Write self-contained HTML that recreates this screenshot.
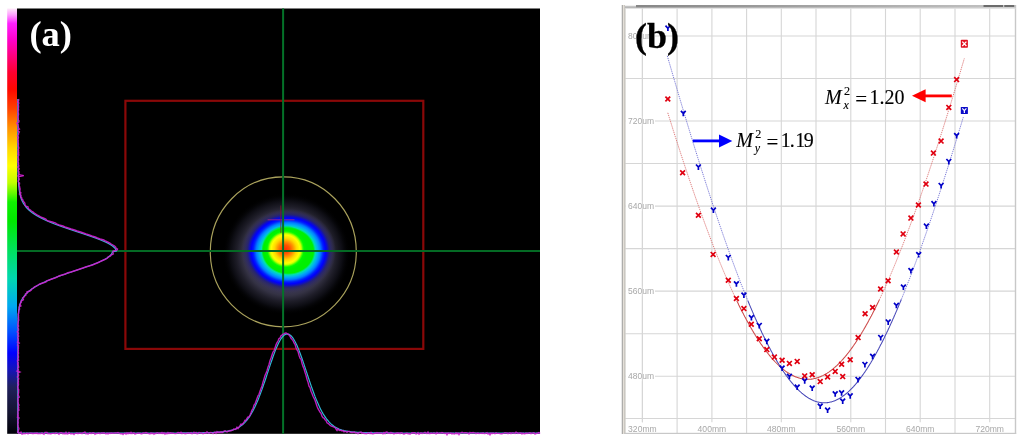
<!DOCTYPE html>
<html><head><meta charset="utf-8"><style>
html,body{margin:0;padding:0;background:#fff;width:1024px;height:439px;overflow:hidden}
svg{position:absolute;left:0;top:0;display:block;will-change:transform}
</style></head><body>
<svg width="1024" height="439" viewBox="0 0 1024 439">
<defs>
<linearGradient id="cbar" x1="0" y1="0" x2="0" y2="1">
<stop offset="0" stop-color="#ffe8fa"/>
<stop offset="0.015" stop-color="#ffa0ff"/>
<stop offset="0.035" stop-color="#ff20ff"/>
<stop offset="0.075" stop-color="#ff00c8"/>
<stop offset="0.11" stop-color="#ff0080"/>
<stop offset="0.15" stop-color="#ff0030"/>
<stop offset="0.19" stop-color="#ff0800"/>
<stop offset="0.235" stop-color="#ff4000"/>
<stop offset="0.28" stop-color="#ff9000"/>
<stop offset="0.33" stop-color="#ffd800"/>
<stop offset="0.37" stop-color="#ffff00"/>
<stop offset="0.41" stop-color="#c0ff00"/>
<stop offset="0.435" stop-color="#60f800"/>
<stop offset="0.455" stop-color="#10f000"/>
<stop offset="0.5" stop-color="#00e800"/>
<stop offset="0.57" stop-color="#00e060"/>
<stop offset="0.635" stop-color="#00d8b0"/>
<stop offset="0.70" stop-color="#00a8f0"/>
<stop offset="0.76" stop-color="#0050ff"/>
<stop offset="0.81" stop-color="#0000ff"/>
<stop offset="0.85" stop-color="#1414b8"/>
<stop offset="0.89" stop-color="#20205c"/>
<stop offset="0.95" stop-color="#141430"/>
<stop offset="1" stop-color="#000008"/>
</linearGradient>
<radialGradient id="beamo" cx="0.5" cy="0.5" r="0.5">
<stop offset="0" stop-color="#00f000"/>
<stop offset="0.379" stop-color="#00f000"/>
<stop offset="0.409" stop-color="#00e0b0"/>
<stop offset="0.447" stop-color="#00b0f0"/>
<stop offset="0.485" stop-color="#0080ff"/>
<stop offset="0.53" stop-color="#0020ff"/>
<stop offset="0.561" stop-color="#0000ff"/>
<stop offset="0.591" stop-color="#1010c0"/>
<stop offset="0.621" stop-color="#262474"/>
<stop offset="0.667" stop-color="#302c60" stop-opacity="0.6"/>
<stop offset="0.72" stop-color="#363250" stop-opacity="0"/>
<stop offset="1" stop-color="#000" stop-opacity="0"/>
</radialGradient>
<radialGradient id="halo" cx="0.5" cy="0.5" r="0.5">
<stop offset="0" stop-color="#3c3858"/>
<stop offset="0.58" stop-color="#3c3858"/>
<stop offset="0.68" stop-color="#343244"/>
<stop offset="0.78" stop-color="#1e1d28"/>
<stop offset="0.88" stop-color="#0c0c12"/>
<stop offset="1" stop-color="#000" stop-opacity="0"/>
</radialGradient>
<radialGradient id="beami" cx="0.5" cy="0.5" r="0.5">
<stop offset="0" stop-color="#ff3000"/>
<stop offset="0.167" stop-color="#ff5000"/>
<stop offset="0.317" stop-color="#ff9000"/>
<stop offset="0.458" stop-color="#ffd800"/>
<stop offset="0.594" stop-color="#ffff00"/>
<stop offset="0.658" stop-color="#c8ff00"/>
<stop offset="0.72" stop-color="#40ff00"/>
<stop offset="0.77" stop-color="#00f800"/>
<stop offset="0.88" stop-color="#00f000"/>
<stop offset="1" stop-color="#00f000" stop-opacity="0"/>
</radialGradient>
<linearGradient id="tbar" x1="0" y1="0" x2="1" y2="0">
<stop offset="0" stop-color="#858585"/>
<stop offset="1" stop-color="#c4c4c4"/>
</linearGradient>
</defs>
<rect x="7.2" y="8.5" width="9.8" height="425.3" fill="url(#cbar)"/>
<rect x="17" y="8.5" width="523" height="425.3" fill="#000"/>
<ellipse cx="286.5" cy="254" rx="64" ry="61" fill="url(#halo)"/>
<ellipse cx="288.4" cy="251" rx="66" ry="58.5" fill="url(#beamo)"/>
<ellipse cx="285.5" cy="249.2" rx="24" ry="23.6" fill="url(#beami)"/>
<ellipse cx="283.3" cy="251.8" rx="73" ry="75" fill="none" stroke="#aaa25c" stroke-width="1.15"/>
<rect x="125.4" y="100.8" width="297.9" height="248.1" fill="none" stroke="#8a0808" stroke-width="2.2"/>
<path d="M267.6,219.8 H294.5" stroke="#c03070" stroke-width="0.9" fill="none" opacity="0.8"/><path d="M280.8,205.5 V233" stroke="#901830" stroke-width="0.9" fill="none" opacity="0.8"/>
<rect x="282.1" y="8.5" width="2" height="425.3" fill="#047228"/>
<rect x="17" y="250" width="523" height="2" fill="#046a24"/>
<path d="M17.8,99.0 L17.8,100.0 L17.8,101.0 L17.8,102.0 L17.8,103.0 L17.8,104.0 L17.8,105.0 L17.8,106.0 L17.8,107.0 L17.8,108.0 L17.8,109.0 L17.8,110.0 L17.8,111.0 L17.8,112.0 L17.8,113.0 L17.8,114.0 L17.8,115.0 L17.8,116.0 L17.8,117.0 L17.8,118.0 L17.8,119.0 L17.8,120.0 L17.8,121.0 L17.8,122.0 L17.8,123.0 L17.8,124.0 L17.8,125.0 L17.8,126.0 L17.8,127.0 L17.8,128.0 L17.8,129.0 L17.8,130.0 L17.8,131.0 L17.8,132.0 L17.8,133.0 L17.8,134.0 L17.8,135.0 L17.8,136.0 L17.8,137.0 L17.8,138.0 L17.8,139.0 L17.8,140.0 L17.8,141.0 L17.8,142.0 L17.8,143.0 L17.8,144.0 L17.8,145.0 L17.8,146.0 L17.8,147.0 L17.9,148.0 L17.9,149.0 L17.9,150.0 L17.9,151.0 L17.9,152.0 L17.9,153.0 L17.9,154.0 L17.9,155.0 L17.9,156.0 L17.9,157.0 L17.9,158.0 L17.9,159.0 L17.9,160.0 L17.9,161.0 L18.0,162.0 L18.0,163.0 L18.0,164.0 L18.0,165.0 L18.0,166.0 L18.0,167.0 L18.0,168.0 L18.1,169.0 L18.1,170.0 L18.1,171.0 L18.1,172.0 L18.1,173.0 L18.2,174.0 L18.2,175.0 L18.2,176.0 L18.3,177.0 L18.3,178.0 L18.3,179.0 L18.4,180.0 L18.4,181.0 L18.5,182.0 L18.6,183.0 L18.6,184.0 L18.7,185.0 L18.8,186.0 L18.9,187.0 L19.0,188.0 L19.1,189.0 L19.2,190.0 L19.4,191.0 L19.5,192.0 L19.7,193.0 L19.9,194.0 L20.1,195.0 L20.4,196.0 L20.7,197.0 L21.0,198.0 L21.3,199.0 L21.7,200.0 L22.2,201.0 L22.7,202.0 L23.2,203.0 L23.8,204.0 L24.5,205.0 L25.2,206.0 L26.0,207.0 L26.9,208.0 L27.9,209.0 L28.9,210.0 L30.1,211.0 L31.3,212.0 L32.6,213.0 L34.1,214.0 L35.6,215.0 L37.3,216.0 L39.1,217.0 L41.0,218.0 L43.0,219.0 L45.1,220.0 L47.3,221.0 L49.6,222.0 L52.1,223.0 L54.6,224.0 L57.3,225.0 L60.0,226.0 L62.8,227.0 L65.7,228.0 L68.6,229.0 L71.6,230.0 L74.6,231.0 L77.6,232.0 L80.7,233.0 L83.7,234.0 L86.7,235.0 L89.6,236.0 L92.5,237.0 L95.3,238.0 L98.0,239.0 L100.6,240.0 L103.0,241.0 L105.3,242.0 L107.4,243.0 L109.3,244.0 L111.0,245.0 L112.5,246.0 L113.7,247.0 L114.7,248.0 L115.5,249.0 L116.0,250.0 L116.3,251.0 L112.3,252.0 L112.0,253.0 L111.5,254.0 L110.7,255.0 L109.7,256.0 L108.5,257.0 L107.0,258.0 L105.4,259.0 L103.5,260.0 L101.4,261.0 L99.2,262.0 L96.8,263.0 L94.3,264.0 L91.6,265.0 L88.9,266.0 L86.0,267.0 L83.1,268.0 L80.2,269.0 L77.2,270.0 L74.2,271.0 L71.2,272.0 L68.3,273.0 L65.4,274.0 L62.5,275.0 L59.7,276.0 L56.9,277.0 L54.3,278.0 L51.7,279.0 L49.2,280.0 L46.8,281.0 L44.6,282.0 L42.4,283.0 L40.4,284.0 L38.4,285.0 L36.6,286.0 L34.9,287.0 L33.3,288.0 L31.8,289.0 L30.5,290.0 L29.2,291.0 L28.0,292.0 L26.9,293.0 L26.0,294.0 L25.1,295.0 L24.2,296.0 L23.5,297.0 L22.8,298.0 L22.2,299.0 L21.7,300.0 L21.2,301.0 L20.8,302.0 L20.4,303.0 L20.0,304.0 L19.7,305.0 L19.5,306.0 L19.2,307.0 L19.0,308.0 L18.9,309.0 L18.7,310.0 L18.6,311.0 L18.5,312.0 L18.4,313.0 L18.3,314.0 L18.2,315.0 L18.1,316.0 L18.1,317.0 L18.0,318.0 L18.0,319.0 L18.0,320.0 L17.9,321.0 L17.9,322.0 L17.9,323.0 L17.9,324.0 L17.9,325.0 L17.9,326.0 L17.8,327.0 L17.8,328.0 L17.8,329.0 L17.8,330.0 L17.8,331.0 L17.8,332.0 L17.8,333.0 L17.8,334.0 L17.8,335.0 L17.8,336.0 L17.8,337.0 L17.8,338.0 L17.8,339.0 L17.8,340.0 L17.8,341.0 L17.8,342.0 L17.8,343.0 L17.8,344.0 L17.8,345.0 L17.8,346.0 L17.8,347.0 L17.8,348.0 L17.8,349.0 L17.8,350.0 L17.8,351.0 L17.8,352.0 L17.8,353.0 L17.8,354.0 L17.8,355.0 L17.8,356.0 L17.8,357.0 L17.8,358.0 L17.8,359.0 L17.8,360.0 L17.8,361.0 L17.8,362.0 L17.8,363.0 L17.8,364.0 L17.8,365.0 L17.8,366.0 L17.8,367.0 L17.8,368.0 L17.8,369.0 L17.8,370.0 L17.8,371.0 L17.8,372.0 L17.8,373.0 L17.8,374.0 L17.8,375.0 L17.8,376.0 L17.8,377.0 L17.8,378.0 L17.8,379.0 L17.8,380.0 L17.8,381.0 L17.8,382.0 L17.8,383.0 L17.8,384.0 L17.8,385.0 L17.8,386.0 L17.8,387.0 L17.8,388.0 L17.8,389.0 L17.8,390.0 L17.8,391.0 L17.8,392.0 L17.8,393.0 L17.8,394.0 L17.8,395.0 L17.8,396.0 L17.8,397.0 L17.8,398.0 L17.8,399.0 L17.8,400.0 L17.8,401.0 L17.8,402.0 L17.8,403.0 L17.8,404.0 L17.8,405.0 L17.8,406.0 L17.8,407.0 L17.8,408.0 L17.8,409.0 L17.8,410.0 L17.8,411.0 L17.8,412.0 L17.8,413.0 L17.8,414.0 L17.8,415.0 L17.8,416.0 L17.8,417.0 L17.8,418.0 L17.8,419.0 L17.8,420.0 L17.8,421.0 L17.8,422.0 L17.8,423.0 L17.8,424.0 L17.8,425.0 L17.8,426.0 L17.8,427.0 L17.8,428.0 L17.8,429.0 L17.8,430.0 L17.8,431.0 L17.8,432.0 L17.8,433.0" stroke="#40b0e0" stroke-width="1.2" fill="none"/>
<path d="M18.5,99.0 L18.7,100.0 L18.5,101.0 L17.6,102.0 L18.8,103.0 L18.5,104.0 L18.0,105.0 L18.6,106.0 L18.5,107.0 L18.4,108.0 L18.3,109.0 L18.6,110.0 L17.9,111.0 L18.2,112.0 L18.1,113.0 L18.6,114.0 L18.3,115.0 L18.2,116.0 L17.9,117.0 L18.2,118.0 L18.3,119.0 L18.2,120.0 L19.0,121.0 L18.8,122.0 L16.9,123.0 L17.4,124.0 L18.2,125.0 L18.1,126.0 L18.4,127.0 L18.4,128.0 L19.4,129.0 L17.8,130.0 L18.1,131.0 L19.3,132.0 L18.6,133.0 L18.6,134.0 L18.1,135.0 L17.5,136.0 L18.4,137.0 L18.4,138.0 L17.7,139.0 L18.0,140.0 L18.3,141.0 L17.9,142.0 L18.3,143.0 L18.4,144.0 L18.4,145.0 L18.1,146.0 L18.6,147.0 L18.8,148.0 L18.5,149.0 L18.0,150.0 L18.7,151.0 L18.1,152.0 L18.8,153.0 L17.9,154.0 L18.9,155.0 L18.4,156.0 L17.8,157.0 L18.3,158.0 L18.5,159.0 L18.6,160.0 L18.0,161.0 L17.9,162.0 L18.6,163.0 L18.3,164.0 L18.6,165.0 L18.9,166.0 L17.7,167.0 L18.7,168.0 L19.2,169.0 L18.4,170.0 L18.2,171.0 L19.0,172.0 L18.8,173.0 L19.1,174.0 L18.5,175.0 L18.0,176.0 L18.7,177.0 L18.6,178.0 L19.3,179.0 L19.0,180.0 L18.2,181.0 L18.4,182.0 L19.5,183.0 L19.5,184.0 L18.9,185.0 L19.3,186.0 L19.7,187.0 L19.8,188.0 L20.1,189.0 L19.9,190.0 L19.9,191.0 L20.0,192.0 L20.9,193.0 L19.5,194.0 L20.8,195.0 L21.1,196.0 L20.7,197.0 L21.9,198.0 L21.8,199.0 L23.0,200.0 L23.0,201.0 L23.9,202.0 L24.8,203.0 L25.0,204.0 L25.1,205.0 L25.6,206.0 L28.1,207.0 L28.1,208.0 L28.8,209.0 L30.4,210.0 L31.4,211.0 L33.2,212.0 L34.3,213.0 L35.8,214.0 L37.0,215.0 L39.4,216.0 L40.5,217.0 L43.3,218.0 L45.8,219.0 L46.5,220.0 L48.3,221.0 L52.3,222.0 L55.7,223.0 L56.6,224.0 L59.2,225.0 L62.9,226.0 L65.0,227.0 L68.1,228.0 L71.2,229.0 L74.6,230.0 L77.2,231.0 L80.6,232.0 L83.4,233.0 L86.1,234.0 L89.3,235.0 L91.9,236.0 L95.2,237.0 L97.4,238.0 L100.1,239.0 L103.8,240.0 L105.4,241.0 L107.6,242.0 L109.9,243.0 L111.2,244.0 L112.9,245.0 L114.6,246.0 L115.7,247.0 L115.9,248.0 L117.5,249.0 L117.2,250.0 L113.1,251.0 L113.0,252.0 L112.9,253.0 L113.3,254.0 L111.0,255.0 L110.5,256.0 L108.0,257.0 L107.5,258.0 L106.2,259.0 L103.7,260.0 L101.3,261.0 L99.4,262.0 L97.2,263.0 L94.6,264.0 L92.5,265.0 L88.9,266.0 L85.6,267.0 L82.9,268.0 L80.0,269.0 L77.1,270.0 L74.0,271.0 L71.1,272.0 L67.2,273.0 L65.6,274.0 L62.0,275.0 L58.9,276.0 L57.1,277.0 L54.8,278.0 L51.8,279.0 L49.2,280.0 L46.3,281.0 L46.0,282.0 L42.8,283.0 L39.8,284.0 L38.1,285.0 L36.7,286.0 L34.3,287.0 L33.6,288.0 L31.8,289.0 L31.3,290.0 L29.9,291.0 L26.9,292.0 L27.2,293.0 L25.5,294.0 L25.9,295.0 L24.7,296.0 L24.1,297.0 L22.7,298.0 L23.5,299.0 L23.1,300.0 L21.1,301.0 L21.4,302.0 L20.5,303.0 L20.5,304.0 L19.6,305.0 L20.9,306.0 L19.2,307.0 L19.4,308.0 L19.6,309.0 L18.9,310.0 L18.9,311.0 L18.7,312.0 L18.8,313.0 L18.2,314.0 L18.5,315.0 L18.5,316.0 L18.4,317.0 L18.6,318.0 L18.3,319.0 L18.8,320.0 L18.3,321.0 L18.3,322.0 L18.1,323.0 L18.1,324.0 L17.7,325.0 L18.6,326.0 L17.8,327.0 L18.0,328.0 L18.5,329.0 L18.5,330.0 L18.1,331.0 L17.3,332.0 L18.5,333.0 L18.4,334.0 L17.6,335.0 L18.7,336.0 L18.0,337.0 L17.7,338.0 L18.4,339.0 L18.2,340.0 L18.4,341.0 L17.5,342.0 L19.2,343.0 L18.0,344.0 L17.5,345.0 L18.6,346.0 L18.1,347.0 L18.5,348.0 L18.1,349.0 L18.3,350.0 L18.4,351.0 L17.9,352.0 L18.6,353.0 L18.1,354.0 L17.9,355.0 L18.3,356.0 L18.5,357.0 L18.2,358.0 L17.9,359.0 L18.6,360.0 L17.4,361.0 L17.8,362.0 L18.3,363.0 L17.6,364.0 L18.3,365.0 L18.3,366.0 L18.7,367.0 L17.8,368.0 L18.0,369.0 L18.5,370.0 L17.1,371.0 L19.9,372.0 L18.0,373.0 L17.9,374.0 L18.7,375.0 L18.3,376.0 L17.4,377.0 L18.6,378.0 L18.7,379.0 L18.1,380.0 L18.2,381.0 L18.5,382.0 L17.8,383.0 L18.5,384.0 L18.4,385.0 L18.0,386.0 L17.6,387.0 L18.2,388.0 L17.9,389.0 L18.8,390.0 L18.4,391.0 L18.7,392.0 L18.4,393.0 L18.4,394.0 L17.9,395.0 L18.6,396.0 L19.2,397.0 L18.1,398.0 L18.0,399.0 L18.2,400.0 L18.1,401.0 L17.9,402.0 L18.4,403.0 L18.2,404.0 L19.0,405.0 L18.3,406.0 L18.5,407.0 L18.8,408.0 L18.1,409.0 L19.0,410.0 L18.0,411.0 L17.9,412.0 L18.1,413.0 L18.2,414.0 L17.6,415.0 L18.3,416.0 L17.5,417.0 L19.0,418.0 L18.3,419.0 L18.0,420.0 L17.8,421.0 L18.1,422.0 L18.2,423.0 L17.8,424.0 L17.8,425.0 L18.2,426.0 L18.0,427.0 L18.8,428.0 L18.9,429.0 L18.3,430.0 L18.5,431.0 L17.6,432.0 L18.6,433.0" stroke="#d020d0" stroke-width="1.4" fill="none" stroke-opacity="0.9"/>
<path d="M18.0,433.0 L19.0,433.0 L20.0,433.0 L21.0,433.0 L22.0,433.0 L23.0,433.0 L24.0,433.0 L25.0,433.0 L26.0,433.0 L27.0,433.0 L28.0,433.0 L29.0,433.0 L30.0,433.0 L31.0,433.0 L32.0,433.0 L33.0,433.0 L34.0,433.0 L35.0,433.0 L36.0,433.0 L37.0,433.0 L38.0,433.0 L39.0,433.0 L40.0,433.0 L41.0,433.0 L42.0,433.0 L43.0,433.0 L44.0,433.0 L45.0,433.0 L46.0,433.0 L47.0,433.0 L48.0,433.0 L49.0,433.0 L50.0,433.0 L51.0,433.0 L52.0,433.0 L53.0,433.0 L54.0,433.0 L55.0,433.0 L56.0,433.0 L57.0,433.0 L58.0,433.0 L59.0,433.0 L60.0,433.0 L61.0,433.0 L62.0,433.0 L63.0,433.0 L64.0,433.0 L65.0,433.0 L66.0,433.0 L67.0,433.0 L68.0,433.0 L69.0,433.0 L70.0,433.0 L71.0,433.0 L72.0,433.0 L73.0,433.0 L74.0,433.0 L75.0,433.0 L76.0,433.0 L77.0,433.0 L78.0,433.0 L79.0,433.0 L80.0,433.0 L81.0,433.0 L82.0,433.0 L83.0,433.0 L84.0,433.0 L85.0,433.0 L86.0,433.0 L87.0,433.0 L88.0,433.0 L89.0,433.0 L90.0,433.0 L91.0,433.0 L92.0,433.0 L93.0,433.0 L94.0,433.0 L95.0,433.0 L96.0,433.0 L97.0,433.0 L98.0,433.0 L99.0,433.0 L100.0,433.0 L101.0,433.0 L102.0,433.0 L103.0,433.0 L104.0,433.0 L105.0,433.0 L106.0,433.0 L107.0,433.0 L108.0,433.0 L109.0,433.0 L110.0,433.0 L111.0,433.0 L112.0,433.0 L113.0,433.0 L114.0,433.0 L115.0,433.0 L116.0,433.0 L117.0,433.0 L118.0,433.0 L119.0,433.0 L120.0,433.0 L121.0,433.0 L122.0,433.0 L123.0,433.0 L124.0,433.0 L125.0,433.0 L126.0,433.0 L127.0,433.0 L128.0,433.0 L129.0,433.0 L130.0,433.0 L131.0,433.0 L132.0,433.0 L133.0,433.0 L134.0,433.0 L135.0,433.0 L136.0,433.0 L137.0,433.0 L138.0,433.0 L139.0,433.0 L140.0,433.0 L141.0,433.0 L142.0,433.0 L143.0,433.0 L144.0,433.0 L145.0,433.0 L146.0,433.0 L147.0,433.0 L148.0,433.0 L149.0,433.0 L150.0,433.0 L151.0,433.0 L152.0,433.0 L153.0,433.0 L154.0,433.0 L155.0,433.0 L156.0,433.0 L157.0,433.0 L158.0,433.0 L159.0,433.0 L160.0,433.0 L161.0,433.0 L162.0,433.0 L163.0,433.0 L164.0,433.0 L165.0,433.0 L166.0,433.0 L167.0,433.0 L168.0,433.0 L169.0,433.0 L170.0,433.0 L171.0,433.0 L172.0,433.0 L173.0,433.0 L174.0,433.0 L175.0,433.0 L176.0,433.0 L177.0,433.0 L178.0,433.0 L179.0,433.0 L180.0,433.0 L181.0,432.9 L182.0,432.9 L183.0,432.9 L184.0,432.9 L185.0,432.9 L186.0,432.9 L187.0,432.9 L188.0,432.9 L189.0,432.9 L190.0,432.9 L191.0,432.9 L192.0,432.9 L193.0,432.9 L194.0,432.9 L195.0,432.8 L196.0,432.8 L197.0,432.8 L198.0,432.8 L199.0,432.8 L200.0,432.8 L201.0,432.8 L202.0,432.8 L203.0,432.7 L204.0,432.7 L205.0,432.7 L206.0,432.7 L207.0,432.6 L208.0,432.6 L209.0,432.6 L210.0,432.6 L211.0,432.5 L212.0,432.5 L213.0,432.5 L214.0,432.4 L215.0,432.4 L216.0,432.3 L217.0,432.3 L218.0,432.2 L219.0,432.2 L220.0,432.1 L221.0,432.0 L222.0,431.9 L223.0,431.8 L224.0,431.7 L225.0,431.6 L226.0,431.4 L227.0,431.3 L228.0,431.1 L229.0,430.9 L230.0,430.7 L231.0,430.4 L232.0,430.2 L233.0,429.9 L234.0,429.5 L235.0,429.2 L236.0,428.7 L237.0,428.3 L238.0,427.7 L239.0,427.2 L240.0,426.5 L241.0,425.8 L242.0,425.1 L243.0,424.2 L244.0,423.3 L245.0,422.3 L246.0,421.2 L247.0,420.0 L248.0,418.7 L249.0,417.3 L250.0,415.8 L251.0,414.2 L252.0,412.5 L253.0,410.7 L254.0,408.8 L255.0,406.7 L256.0,404.5 L257.0,402.3 L258.0,399.9 L259.0,397.4 L260.0,394.8 L261.0,392.1 L262.0,389.4 L263.0,386.5 L264.0,383.6 L265.0,380.7 L266.0,377.7 L267.0,374.6 L268.0,371.6 L269.0,368.6 L270.0,365.6 L271.0,362.6 L272.0,359.7 L273.0,356.8 L274.0,354.1 L275.0,351.4 L276.0,348.9 L277.0,346.5 L278.0,344.3 L279.0,342.3 L280.0,340.5 L281.0,338.8 L282.0,337.4 L283.0,336.3 L284.0,335.3 L285.0,334.6 L286.0,334.2 L287.0,334.0 L288.0,334.1 L289.0,334.4 L290.0,335.0 L291.0,335.8 L292.0,336.9 L293.0,338.2 L294.0,339.8 L295.0,341.5 L296.0,343.5 L297.0,345.6 L298.0,347.9 L299.0,350.4 L300.0,353.0 L301.0,355.7 L302.0,358.5 L303.0,361.4 L304.0,364.4 L305.0,367.4 L306.0,370.4 L307.0,373.4 L308.0,376.5 L309.0,379.5 L310.0,382.4 L311.0,385.4 L312.0,388.2 L313.0,391.0 L314.0,393.7 L315.0,396.4 L316.0,398.9 L317.0,401.3 L318.0,403.6 L319.0,405.8 L320.0,407.9 L321.0,409.9 L322.0,411.8 L323.0,413.6 L324.0,415.2 L325.0,416.7 L326.0,418.2 L327.0,419.5 L328.0,420.7 L329.0,421.9 L330.0,422.9 L331.0,423.9 L332.0,424.7 L333.0,425.5 L334.0,426.3 L335.0,426.9 L336.0,427.5 L337.0,428.1 L338.0,428.5 L339.0,429.0 L340.0,429.4 L341.0,429.7 L342.0,430.1 L343.0,430.3 L344.0,430.6 L345.0,430.8 L346.0,431.0 L347.0,431.2 L348.0,431.4 L349.0,431.5 L350.0,431.6 L351.0,431.8 L352.0,431.9 L353.0,432.0 L354.0,432.0 L355.0,432.1 L356.0,432.2 L357.0,432.3 L358.0,432.3 L359.0,432.4 L360.0,432.4 L361.0,432.4 L362.0,432.5 L363.0,432.5 L364.0,432.6 L365.0,432.6 L366.0,432.6 L367.0,432.6 L368.0,432.7 L369.0,432.7 L370.0,432.7 L371.0,432.7 L372.0,432.7 L373.0,432.8 L374.0,432.8 L375.0,432.8 L376.0,432.8 L377.0,432.8 L378.0,432.8 L379.0,432.8 L380.0,432.9 L381.0,432.9 L382.0,432.9 L383.0,432.9 L384.0,432.9 L385.0,432.9 L386.0,432.9 L387.0,432.9 L388.0,432.9 L389.0,432.9 L390.0,432.9 L391.0,432.9 L392.0,432.9 L393.0,432.9 L394.0,433.0 L395.0,433.0 L396.0,433.0 L397.0,433.0 L398.0,433.0 L399.0,433.0 L400.0,433.0 L401.0,433.0 L402.0,433.0 L403.0,433.0 L404.0,433.0 L405.0,433.0 L406.0,433.0 L407.0,433.0 L408.0,433.0 L409.0,433.0 L410.0,433.0 L411.0,433.0 L412.0,433.0 L413.0,433.0 L414.0,433.0 L415.0,433.0 L416.0,433.0 L417.0,433.0 L418.0,433.0 L419.0,433.0 L420.0,433.0 L421.0,433.0 L422.0,433.0 L423.0,433.0 L424.0,433.0 L425.0,433.0 L426.0,433.0 L427.0,433.0 L428.0,433.0 L429.0,433.0 L430.0,433.0 L431.0,433.0 L432.0,433.0 L433.0,433.0 L434.0,433.0 L435.0,433.0 L436.0,433.0 L437.0,433.0 L438.0,433.0 L439.0,433.0 L440.0,433.0 L441.0,433.0 L442.0,433.0 L443.0,433.0 L444.0,433.0 L445.0,433.0 L446.0,433.0 L447.0,433.0 L448.0,433.0 L449.0,433.0 L450.0,433.0 L451.0,433.0 L452.0,433.0 L453.0,433.0 L454.0,433.0 L455.0,433.0 L456.0,433.0 L457.0,433.0 L458.0,433.0 L459.0,433.0 L460.0,433.0 L461.0,433.0 L462.0,433.0 L463.0,433.0 L464.0,433.0 L465.0,433.0 L466.0,433.0 L467.0,433.0 L468.0,433.0 L469.0,433.0 L470.0,433.0 L471.0,433.0 L472.0,433.0 L473.0,433.0 L474.0,433.0 L475.0,433.0 L476.0,433.0 L477.0,433.0 L478.0,433.0 L479.0,433.0 L480.0,433.0 L481.0,433.0 L482.0,433.0 L483.0,433.0 L484.0,433.0 L485.0,433.0 L486.0,433.0 L487.0,433.0 L488.0,433.0 L489.0,433.0 L490.0,433.0 L491.0,433.0 L492.0,433.0 L493.0,433.0 L494.0,433.0 L495.0,433.0 L496.0,433.0 L497.0,433.0 L498.0,433.0 L499.0,433.0 L500.0,433.0 L501.0,433.0 L502.0,433.0 L503.0,433.0 L504.0,433.0 L505.0,433.0 L506.0,433.0 L507.0,433.0 L508.0,433.0 L509.0,433.0 L510.0,433.0 L511.0,433.0 L512.0,433.0 L513.0,433.0 L514.0,433.0 L515.0,433.0 L516.0,433.0 L517.0,433.0 L518.0,433.0 L519.0,433.0 L520.0,433.0 L521.0,433.0 L522.0,433.0 L523.0,433.0 L524.0,433.0 L525.0,433.0 L526.0,433.0 L527.0,433.0 L528.0,433.0 L529.0,433.0 L530.0,433.0 L531.0,433.0 L532.0,433.0 L533.0,433.0 L534.0,433.0 L535.0,433.0 L536.0,433.0 L537.0,433.0 L538.0,433.0 L539.0,433.0 L540.0,433.0" stroke="#30b8d8" stroke-width="1.2" fill="none"/>
<path d="M18.0,433.4 L19.0,433.0 L20.0,433.1 L21.0,432.1 L22.0,434.2 L23.0,433.9 L24.0,433.1 L25.0,433.7 L26.0,433.4 L27.0,433.0 L28.0,433.8 L29.0,433.1 L30.0,433.1 L31.0,432.9 L32.0,433.5 L33.0,433.3 L34.0,433.6 L35.0,433.0 L36.0,433.4 L37.0,432.9 L38.0,433.7 L39.0,433.4 L40.0,433.5 L41.0,433.5 L42.0,432.8 L43.0,433.7 L44.0,434.3 L45.0,432.5 L46.0,432.4 L47.0,432.5 L48.0,433.7 L49.0,433.4 L50.0,433.8 L51.0,433.7 L52.0,433.4 L53.0,433.4 L54.0,433.2 L55.0,433.7 L56.0,432.7 L57.0,433.1 L58.0,433.4 L59.0,434.2 L60.0,432.9 L61.0,432.8 L62.0,433.0 L63.0,433.8 L64.0,433.2 L65.0,434.0 L66.0,432.4 L67.0,433.9 L68.0,433.8 L69.0,432.6 L70.0,433.4 L71.0,433.9 L72.0,433.3 L73.0,433.8 L74.0,434.5 L75.0,433.4 L76.0,433.2 L77.0,432.9 L78.0,433.6 L79.0,433.2 L80.0,433.2 L81.0,433.2 L82.0,433.6 L83.0,432.8 L84.0,432.5 L85.0,432.1 L86.0,433.9 L87.0,433.3 L88.0,434.1 L89.0,433.3 L90.0,432.9 L91.0,433.5 L92.0,433.3 L93.0,432.7 L94.0,432.9 L95.0,434.2 L96.0,433.5 L97.0,433.5 L98.0,433.2 L99.0,433.0 L100.0,433.7 L101.0,433.2 L102.0,432.9 L103.0,433.2 L104.0,432.8 L105.0,433.4 L106.0,433.9 L107.0,432.9 L108.0,434.0 L109.0,433.0 L110.0,433.4 L111.0,432.9 L112.0,433.2 L113.0,433.3 L114.0,433.1 L115.0,432.9 L116.0,433.0 L117.0,432.9 L118.0,432.5 L119.0,433.2 L120.0,433.5 L121.0,433.8 L122.0,433.6 L123.0,434.5 L124.0,433.5 L125.0,433.1 L126.0,434.2 L127.0,432.8 L128.0,433.8 L129.0,432.8 L130.0,433.5 L131.0,432.3 L132.0,433.7 L133.0,433.2 L134.0,432.8 L135.0,434.1 L136.0,433.7 L137.0,433.3 L138.0,432.9 L139.0,433.3 L140.0,433.2 L141.0,433.7 L142.0,433.7 L143.0,433.0 L144.0,433.0 L145.0,433.0 L146.0,432.6 L147.0,433.0 L148.0,433.3 L149.0,433.6 L150.0,434.0 L151.0,432.9 L152.0,433.6 L153.0,433.1 L154.0,434.3 L155.0,433.3 L156.0,433.5 L157.0,432.8 L158.0,432.9 L159.0,433.4 L160.0,433.1 L161.0,433.5 L162.0,432.5 L163.0,433.6 L164.0,432.8 L165.0,434.1 L166.0,433.1 L167.0,433.8 L168.0,432.6 L169.0,433.5 L170.0,432.8 L171.0,433.0 L172.0,433.3 L173.0,433.1 L174.0,433.4 L175.0,433.6 L176.0,433.6 L177.0,433.2 L178.0,432.6 L179.0,432.8 L180.0,433.1 L181.0,432.2 L182.0,433.6 L183.0,433.1 L184.0,433.1 L185.0,433.7 L186.0,433.5 L187.0,433.3 L188.0,432.7 L189.0,433.3 L190.0,433.4 L191.0,432.7 L192.0,433.7 L193.0,433.4 L194.0,432.2 L195.0,433.2 L196.0,432.5 L197.0,433.7 L198.0,433.5 L199.0,432.5 L200.0,432.6 L201.0,433.1 L202.0,432.9 L203.0,433.8 L204.0,433.4 L205.0,432.8 L206.0,433.2 L207.0,431.9 L208.0,433.0 L209.0,433.3 L210.0,432.7 L211.0,432.4 L212.0,433.0 L213.0,433.7 L214.0,432.8 L215.0,432.1 L216.0,433.3 L217.0,431.6 L218.0,432.7 L219.0,432.1 L220.0,432.7 L221.0,431.8 L222.0,432.7 L223.0,432.1 L224.0,431.0 L225.0,430.7 L226.0,431.4 L227.0,432.0 L228.0,431.2 L229.0,431.0 L230.0,430.6 L231.0,430.8 L232.0,430.3 L233.0,429.9 L234.0,428.9 L235.0,429.5 L236.0,429.2 L237.0,427.3 L238.0,428.5 L239.0,427.1 L240.0,425.7 L241.0,424.2 L242.0,424.6 L243.0,423.6 L244.0,422.0 L245.0,420.3 L246.0,420.5 L247.0,418.4 L248.0,417.0 L249.0,417.1 L250.0,415.1 L251.0,412.7 L252.0,410.1 L253.0,408.7 L254.0,405.1 L255.0,404.1 L256.0,401.3 L257.0,398.6 L258.0,395.9 L259.0,394.3 L260.0,391.3 L261.0,388.5 L262.0,385.9 L263.0,382.1 L264.0,378.9 L265.0,375.6 L266.0,373.2 L267.0,370.7 L268.0,367.1 L269.0,364.5 L270.0,360.6 L271.0,358.0 L272.0,355.0 L273.0,352.0 L274.0,350.9 L275.0,347.9 L276.0,344.8 L277.0,342.6 L278.0,341.0 L279.0,338.6 L280.0,338.0 L281.0,335.8 L282.0,335.2 L283.0,334.1 L284.0,333.8 L285.0,333.1 L286.0,332.9 L287.0,333.5 L288.0,334.1 L289.0,335.1 L290.0,336.3 L291.0,338.3 L292.0,339.4 L293.0,340.6 L294.0,343.0 L295.0,344.4 L296.0,347.8 L297.0,349.8 L298.0,351.4 L299.0,355.2 L300.0,358.1 L301.0,359.2 L302.0,363.2 L303.0,366.4 L304.0,368.7 L305.0,372.2 L306.0,375.4 L307.0,379.2 L308.0,382.1 L309.0,386.2 L310.0,387.6 L311.0,391.3 L312.0,393.5 L313.0,396.3 L314.0,398.1 L315.0,400.2 L316.0,403.2 L317.0,406.2 L318.0,408.7 L319.0,410.3 L320.0,412.1 L321.0,413.3 L322.0,416.1 L323.0,417.6 L324.0,418.1 L325.0,419.7 L326.0,420.5 L327.0,422.8 L328.0,423.4 L329.0,424.1 L330.0,425.2 L331.0,426.0 L332.0,426.4 L333.0,426.6 L334.0,427.2 L335.0,427.5 L336.0,429.1 L337.0,430.4 L338.0,428.8 L339.0,430.1 L340.0,430.6 L341.0,430.2 L342.0,431.0 L343.0,430.6 L344.0,431.9 L345.0,431.2 L346.0,431.7 L347.0,432.2 L348.0,431.7 L349.0,431.2 L350.0,431.9 L351.0,432.6 L352.0,432.3 L353.0,432.5 L354.0,431.9 L355.0,432.6 L356.0,433.0 L357.0,432.7 L358.0,433.7 L359.0,432.6 L360.0,432.3 L361.0,432.0 L362.0,433.4 L363.0,432.8 L364.0,433.4 L365.0,433.2 L366.0,433.8 L367.0,433.6 L368.0,432.8 L369.0,433.2 L370.0,433.6 L371.0,432.4 L372.0,433.8 L373.0,433.7 L374.0,433.6 L375.0,433.0 L376.0,433.3 L377.0,432.6 L378.0,433.2 L379.0,432.9 L380.0,433.2 L381.0,432.9 L382.0,433.3 L383.0,433.8 L384.0,432.5 L385.0,433.7 L386.0,432.2 L387.0,432.1 L388.0,433.2 L389.0,433.2 L390.0,433.5 L391.0,432.4 L392.0,433.2 L393.0,433.3 L394.0,433.9 L395.0,433.2 L396.0,433.5 L397.0,432.8 L398.0,433.2 L399.0,433.0 L400.0,433.6 L401.0,432.8 L402.0,432.9 L403.0,433.6 L404.0,434.2 L405.0,433.5 L406.0,433.4 L407.0,433.1 L408.0,433.8 L409.0,433.6 L410.0,434.2 L411.0,433.5 L412.0,432.8 L413.0,433.0 L414.0,432.8 L415.0,432.7 L416.0,433.9 L417.0,433.7 L418.0,432.7 L419.0,434.2 L420.0,433.4 L421.0,432.8 L422.0,433.5 L423.0,433.3 L424.0,432.9 L425.0,432.3 L426.0,433.3 L427.0,433.4 L428.0,432.0 L429.0,433.6 L430.0,433.6 L431.0,433.1 L432.0,433.4 L433.0,433.2 L434.0,432.9 L435.0,433.1 L436.0,434.0 L437.0,432.6 L438.0,433.4 L439.0,433.4 L440.0,432.9 L441.0,433.1 L442.0,432.6 L443.0,432.9 L444.0,433.3 L445.0,433.5 L446.0,432.9 L447.0,434.8 L448.0,433.0 L449.0,433.4 L450.0,433.2 L451.0,433.1 L452.0,434.0 L453.0,433.1 L454.0,434.0 L455.0,433.9 L456.0,432.8 L457.0,433.8 L458.0,433.0 L459.0,434.7 L460.0,433.1 L461.0,432.8 L462.0,432.3 L463.0,432.7 L464.0,433.0 L465.0,432.8 L466.0,432.7 L467.0,433.0 L468.0,433.2 L469.0,434.0 L470.0,432.4 L471.0,433.0 L472.0,432.8 L473.0,432.5 L474.0,432.7 L475.0,432.8 L476.0,433.7 L477.0,433.2 L478.0,433.0 L479.0,433.6 L480.0,433.4 L481.0,433.2 L482.0,433.5 L483.0,432.9 L484.0,433.6 L485.0,433.5 L486.0,433.1 L487.0,432.7 L488.0,434.1 L489.0,433.3 L490.0,434.8 L491.0,433.0 L492.0,433.7 L493.0,433.1 L494.0,433.4 L495.0,433.7 L496.0,432.9 L497.0,433.2 L498.0,433.4 L499.0,433.4 L500.0,433.6 L501.0,433.8 L502.0,433.7 L503.0,433.4 L504.0,433.1 L505.0,432.7 L506.0,432.9 L507.0,433.0 L508.0,433.6 L509.0,433.1 L510.0,432.7 L511.0,433.6 L512.0,432.9 L513.0,432.9 L514.0,433.2 L515.0,433.5 L516.0,432.1 L517.0,432.7 L518.0,433.4 L519.0,433.1 L520.0,432.9 L521.0,433.0 L522.0,434.0 L523.0,433.1 L524.0,433.7 L525.0,433.7 L526.0,433.1 L527.0,433.5 L528.0,433.1 L529.0,433.0 L530.0,432.7 L531.0,433.7 L532.0,433.1 L533.0,433.0 L534.0,432.7 L535.0,434.2 L536.0,433.7 L537.0,433.2 L538.0,433.0 L539.0,432.5 L540.0,433.4" stroke="#d020d0" stroke-width="1.4" fill="none" stroke-opacity="0.9"/>
<path d="M18.6,174.6 L23.8,175.6 L18.8,176.8" stroke="#d020d0" stroke-width="1.1" fill="none"/>
<text x="29.4" y="46.2" font-family="Liberation Serif" font-weight="bold" font-size="36.5" fill="#fff">(a)</text>
<rect x="625.5" y="8" width="390" height="425.5" fill="#fff"/>
<path d="M625.5,36.0 H1015 M625.5,78.5 H1015 M625.5,121.0 H1015 M625.5,163.5 H1015 M625.5,206.1 H1015 M625.5,248.6 H1015 M625.5,291.1 H1015 M625.5,333.7 H1015 M625.5,376.2 H1015 M625.5,418.5 H1015 M642.4,8.5 V422.3 M677.1,8.5 V433 M711.9,8.5 V422.3 M746.6,8.5 V433 M781.3,8.5 V422.3 M816.0,8.5 V433 M850.8,8.5 V422.3 M885.5,8.5 V433 M920.2,8.5 V422.3 M955.0,8.5 V433 M989.7,8.5 V422.3" stroke="#d6d6d6" stroke-width="1.1" fill="none"/>
<rect x="625.6" y="30.7" width="29.4" height="10" fill="#fff"/>
<text x="628" y="38.7" font-family="Liberation Sans" font-size="9.7" fill="#a8a8a8" textLength="26" lengthAdjust="spacingAndGlyphs">800um</text>
<rect x="625.6" y="116.1" width="29.4" height="10" fill="#fff"/>
<text x="628" y="124.1" font-family="Liberation Sans" font-size="9.7" fill="#a8a8a8" textLength="26" lengthAdjust="spacingAndGlyphs">720um</text>
<rect x="625.6" y="201.2" width="29.4" height="10" fill="#fff"/>
<text x="628" y="209.2" font-family="Liberation Sans" font-size="9.7" fill="#a8a8a8" textLength="26" lengthAdjust="spacingAndGlyphs">640um</text>
<rect x="625.6" y="286.3" width="29.4" height="10" fill="#fff"/>
<text x="628" y="294.3" font-family="Liberation Sans" font-size="9.7" fill="#a8a8a8" textLength="26" lengthAdjust="spacingAndGlyphs">560um</text>
<rect x="625.6" y="371.4" width="29.4" height="10" fill="#fff"/>
<text x="628" y="379.4" font-family="Liberation Sans" font-size="9.7" fill="#a8a8a8" textLength="26" lengthAdjust="spacingAndGlyphs">480um</text>
<path d="M642.4,8.5 V422.3" stroke="#d6d6d6" stroke-width="1.1"/>
<text x="628.1" y="431.7" font-family="Liberation Sans" font-size="9.3" fill="#a8a8a8" textLength="28.6" lengthAdjust="spacingAndGlyphs">320mm</text>
<text x="697.6" y="431.7" font-family="Liberation Sans" font-size="9.3" fill="#a8a8a8" textLength="28.6" lengthAdjust="spacingAndGlyphs">400mm</text>
<text x="767.0" y="431.7" font-family="Liberation Sans" font-size="9.3" fill="#a8a8a8" textLength="28.6" lengthAdjust="spacingAndGlyphs">480mm</text>
<text x="836.5" y="431.7" font-family="Liberation Sans" font-size="9.3" fill="#a8a8a8" textLength="28.6" lengthAdjust="spacingAndGlyphs">560mm</text>
<text x="905.9" y="431.7" font-family="Liberation Sans" font-size="9.3" fill="#a8a8a8" textLength="28.6" lengthAdjust="spacingAndGlyphs">640mm</text>
<text x="975.4" y="431.7" font-family="Liberation Sans" font-size="9.3" fill="#a8a8a8" textLength="28.6" lengthAdjust="spacingAndGlyphs">720mm</text>
<rect x="621.8" y="5" width="1" height="429" fill="#8a8a8a"/>
<rect x="622.8" y="5" width="1.6" height="429" fill="#e4e0d8"/>
<rect x="624.4" y="5" width="1" height="429" fill="#b0aca4"/>
<rect x="1014.8" y="5" width="1.4" height="429" fill="#c8c8c8"/>
<rect x="624.4" y="432.8" width="391.8" height="1.2" fill="#c8c8c8"/>
<rect x="625" y="5" width="391" height="2.8" fill="url(#tbar)"/>
<rect x="625" y="5" width="11" height="2.8" fill="#f0f0f0"/>
<rect x="625" y="6.3" width="11" height="1.8" fill="#b0b0b0"/>
<rect x="625" y="7.8" width="391" height="0.9" fill="#d8d8d8"/>
<path d="M983.5,6 H1003 M1004.3,6 H1014.2" stroke="#505050" stroke-width="1.7"/>
<path d="M667.8,112.8 L668.3,114.4 L668.8,116.0 L669.3,117.6 L669.8,119.2 L670.3,120.8 L670.8,122.4 L671.3,124.0 L671.8,125.6 L672.3,127.2 L672.8,128.8 L673.3,130.4 L673.8,131.9 L674.3,133.5 L674.8,135.1 L675.3,136.7 L675.8,138.2 L676.3,139.8 L676.8,141.4 L677.3,142.9 L677.8,144.5 L678.3,146.0 L678.8,147.6 L679.3,149.1 L679.8,150.7 L680.3,152.2 L680.8,153.7 L681.3,155.3 L681.8,156.8 L682.3,158.3 L682.8,159.8 L683.3,161.4 L683.8,162.9 L684.3,164.4 L684.8,165.9 L685.3,167.4 L685.8,168.9 L686.3,170.4 L686.8,171.9 L687.3,173.4 L687.8,174.9 L688.3,176.4 L688.8,177.9 L689.3,179.3 L689.8,180.8 L690.3,182.3 L690.8,183.8 L691.3,185.2 L691.8,186.7 L692.3,188.1 L692.8,189.6 L693.3,191.1 L693.8,192.5 L694.3,193.9 L694.8,195.4 L695.3,196.8 L695.8,198.3 L696.3,199.7 L696.8,201.1 L697.3,202.5 L697.8,203.9 L698.3,205.4 L698.8,206.8 L699.3,208.2 L699.8,209.6 L700.3,211.0 L700.8,212.4 L701.3,213.7 L701.8,215.1 L702.3,216.5 L702.8,217.9 L703.3,219.3 L703.8,220.6 L704.3,222.0 L704.8,223.4 L705.3,224.7 L705.8,226.1 L706.3,227.4 L706.8,228.8 L707.3,230.1 L707.8,231.4 L708.3,232.8 L708.8,234.1 L709.3,235.4 L709.8,236.7 L710.3,238.0 L710.8,239.4 L711.3,240.7 L711.8,242.0 L712.3,243.3 L712.8,244.5 L713.3,245.8 L713.8,247.1 L714.3,248.4 L714.8,249.7 L715.3,250.9 L715.8,252.2 L716.3,253.5 L716.8,254.7 L717.3,256.0 L717.8,257.2 L718.3,258.4 L718.8,259.7 L719.3,260.9 L719.8,262.1 L720.3,263.4 L720.8,264.6 L721.3,265.8 L721.8,267.0 L722.3,268.2 L722.8,269.4 L723.3,270.6 L723.8,271.8 L724.3,272.9 L724.8,274.1 L725.3,275.3 L725.8,276.5 L726.3,277.6 L726.8,278.8 L727.3,279.9 L727.8,281.1 L728.3,282.2 L728.8,283.3 L729.3,284.5 L729.8,285.6 L730.3,286.7 L730.8,287.8 L731.3,288.9 L731.8,290.0 L732.3,291.1 L732.8,292.2 L733.3,293.3 L733.8,294.4 L734.3,295.5 L734.8,296.5 L735.3,297.6 L735.8,298.6 L736.3,299.7 L736.8,300.7" stroke="#d86464" stroke-width="0.85" fill="none" stroke-dasharray="1.3 0.9"/>
<path d="M736.8,300.7 L737.3,301.8 L737.8,302.8 L738.3,303.8 L738.8,304.9 L739.3,305.9 L739.8,306.9 L740.3,307.9 L740.8,308.9 L741.3,309.9 L741.8,310.9 L742.3,311.9 L742.8,312.8 L743.3,313.8 L743.8,314.8 L744.3,315.7 L744.8,316.7 L745.3,317.6 L745.8,318.5 L746.3,319.5 L746.8,320.4 L747.3,321.3 L747.8,322.2 L748.3,323.1 L748.8,324.0 L749.3,324.9 L749.8,325.8 L750.3,326.7 L750.8,327.6 L751.3,328.4 L751.8,329.3 L752.3,330.2 L752.8,331.0 L753.3,331.9 L753.8,332.7 L754.3,333.5 L754.8,334.3 L755.3,335.2 L755.8,336.0 L756.3,336.8 L756.8,337.6 L757.3,338.3 L757.8,339.1 L758.3,339.9 L758.8,340.7 L759.3,341.4 L759.8,342.2 L760.3,342.9 L760.8,343.7 L761.3,344.4 L761.8,345.1 L762.3,345.8 L762.8,346.6 L763.3,347.3 L763.8,348.0 L764.3,348.7 L764.8,349.3 L765.3,350.0 L765.8,350.7 L766.3,351.3 L766.8,352.0 L767.3,352.6 L767.8,353.3 L768.3,353.9 L768.8,354.5 L769.3,355.2 L769.8,355.8 L770.3,356.4 L770.8,357.0 L771.3,357.6 L771.8,358.1 L772.3,358.7 L772.8,359.3 L773.3,359.8 L773.8,360.4 L774.3,360.9 L774.8,361.5 L775.3,362.0 L775.8,362.5 L776.3,363.0 L776.8,363.5 L777.3,364.0 L777.8,364.5 L778.3,365.0 L778.8,365.5 L779.3,366.0 L779.8,366.4 L780.3,366.9 L780.8,367.3 L781.3,367.7 L781.8,368.2 L782.3,368.6 L782.8,369.0 L783.3,369.4 L783.8,369.8 L784.3,370.2 L784.8,370.6 L785.3,370.9 L785.8,371.3 L786.3,371.7 L786.8,372.0 L787.3,372.4 L787.8,372.7 L788.3,373.0 L788.8,373.3 L789.3,373.6 L789.8,373.9 L790.3,374.2 L790.8,374.5 L791.3,374.8 L791.8,375.1 L792.3,375.3 L792.8,375.6 L793.3,375.8 L793.8,376.0 L794.3,376.3 L794.8,376.5 L795.3,376.7 L795.8,376.9 L796.3,377.1 L796.8,377.3 L797.3,377.5 L797.8,377.6 L798.3,377.8 L798.8,378.0 L799.3,378.1 L799.8,378.2 L800.3,378.4 L800.8,378.5 L801.3,378.6 L801.8,378.7 L802.3,378.8 L802.8,378.9 L803.3,379.0 L803.8,379.0 L804.3,379.1 L804.8,379.2 L805.3,379.2 L805.8,379.2 L806.3,379.3 L806.8,379.3 L807.3,379.3 L807.8,379.3 L808.3,379.3 L808.8,379.3 L809.3,379.3 L809.8,379.2 L810.3,379.2 L810.8,379.2 L811.3,379.1 L811.8,379.1 L812.3,379.0 L812.8,378.9 L813.3,378.8 L813.8,378.7 L814.3,378.6 L814.8,378.5 L815.3,378.4 L815.8,378.3 L816.3,378.1 L816.8,378.0 L817.3,377.8 L817.8,377.7 L818.3,377.5 L818.8,377.3 L819.3,377.1 L819.8,376.9 L820.3,376.7 L820.8,376.5 L821.3,376.3 L821.8,376.1 L822.3,375.9 L822.8,375.6 L823.3,375.4 L823.8,375.1 L824.3,374.8 L824.8,374.6 L825.3,374.3 L825.8,374.0 L826.3,373.7 L826.8,373.4 L827.3,373.1 L827.8,372.7 L828.3,372.4 L828.8,372.1 L829.3,371.7 L829.8,371.4 L830.3,371.0 L830.8,370.6 L831.3,370.3 L831.8,369.9 L832.3,369.5 L832.8,369.1 L833.3,368.7 L833.8,368.2 L834.3,367.8 L834.8,367.4 L835.3,366.9 L835.8,366.5 L836.3,366.0 L836.8,365.6 L837.3,365.1 L837.8,364.6 L838.3,364.1 L838.8,363.6 L839.3,363.1 L839.8,362.6 L840.3,362.1 L840.8,361.6 L841.3,361.0 L841.8,360.5 L842.3,359.9 L842.8,359.4 L843.3,358.8 L843.8,358.2 L844.3,357.7 L844.8,357.1 L845.3,356.5 L845.8,355.9 L846.3,355.3 L846.8,354.7 L847.3,354.0 L847.8,353.4 L848.3,352.8 L848.8,352.1 L849.3,351.5 L849.8,350.8 L850.3,350.1 L850.8,349.5 L851.3,348.8 L851.8,348.1 L852.3,347.4 L852.8,346.7 L853.3,346.0 L853.8,345.3 L854.3,344.5 L854.8,343.8 L855.3,343.1 L855.8,342.3 L856.3,341.6 L856.8,340.8 L857.3,340.0 L857.8,339.3 L858.3,338.5 L858.8,337.7 L859.3,336.9 L859.8,336.1 L860.3,335.3 L860.8,334.5 L861.3,333.7 L861.8,332.8 L862.3,332.0 L862.8,331.2 L863.3,330.3 L863.8,329.5 L864.3,328.6 L864.8,327.7 L865.3,326.9 L865.8,326.0 L866.3,325.1 L866.8,324.2 L867.3,323.3 L867.8,322.4 L868.3,321.5 L868.8,320.6 L869.3,319.6 L869.8,318.7 L870.3,317.8 L870.8,316.8 L871.3,315.9 L871.8,314.9 L872.3,314.0 L872.8,313.0 L873.3,312.0 L873.8,311.0 L874.3,310.1 L874.8,309.1 L875.3,308.1 L875.8,307.1 L876.3,306.1 L876.8,305.0 L877.3,304.0 L877.8,303.0 L878.3,302.0 L878.8,300.9 L879.3,299.9" stroke="#cc4848" stroke-width="1.05" fill="none"/>
<path d="M879.3,299.9 L879.8,298.8 L880.3,297.8 L880.8,296.7 L881.3,295.6 L881.8,294.6 L882.3,293.5 L882.8,292.4 L883.3,291.3 L883.8,290.2 L884.3,289.1 L884.8,288.0 L885.3,286.9 L885.8,285.8 L886.3,284.7 L886.8,283.5 L887.3,282.4 L887.8,281.3 L888.3,280.1 L888.8,279.0 L889.3,277.8 L889.8,276.7 L890.3,275.5 L890.8,274.3 L891.3,273.2 L891.8,272.0 L892.3,270.8 L892.8,269.6 L893.3,268.4 L893.8,267.2 L894.3,266.0 L894.8,264.8 L895.3,263.6 L895.8,262.4 L896.3,261.1 L896.8,259.9 L897.3,258.7 L897.8,257.4 L898.3,256.2 L898.8,254.9 L899.3,253.7 L899.8,252.4 L900.3,251.2 L900.8,249.9 L901.3,248.6 L901.8,247.4 L902.3,246.1 L902.8,244.8 L903.3,243.5 L903.8,242.2 L904.3,240.9 L904.8,239.6 L905.3,238.3 L905.8,237.0 L906.3,235.7 L906.8,234.3 L907.3,233.0 L907.8,231.7 L908.3,230.3 L908.8,229.0 L909.3,227.7 L909.8,226.3 L910.3,225.0 L910.8,223.6 L911.3,222.2 L911.8,220.9 L912.3,219.5 L912.8,218.1 L913.3,216.8 L913.8,215.4 L914.3,214.0 L914.8,212.6 L915.3,211.2 L915.8,209.8 L916.3,208.4 L916.8,207.0 L917.3,205.6 L917.8,204.2 L918.3,202.8 L918.8,201.4 L919.3,199.9 L919.8,198.5 L920.3,197.1 L920.8,195.6 L921.3,194.2 L921.8,192.8 L922.3,191.3 L922.8,189.9 L923.3,188.4 L923.8,187.0 L924.3,185.5 L924.8,184.0 L925.3,182.6 L925.8,181.1 L926.3,179.6 L926.8,178.1 L927.3,176.7 L927.8,175.2 L928.3,173.7 L928.8,172.2 L929.3,170.7 L929.8,169.2 L930.3,167.7 L930.8,166.2 L931.3,164.7 L931.8,163.2 L932.3,161.6 L932.8,160.1 L933.3,158.6 L933.8,157.1 L934.3,155.5 L934.8,154.0 L935.3,152.5 L935.8,150.9 L936.3,149.4 L936.8,147.9 L937.3,146.3 L937.8,144.8 L938.3,143.2 L938.8,141.6 L939.3,140.1 L939.8,138.5 L940.3,136.9 L940.8,135.4 L941.3,133.8 L941.8,132.2 L942.3,130.7 L942.8,129.1 L943.3,127.5 L943.8,125.9 L944.3,124.3 L944.8,122.7 L945.3,121.1 L945.8,119.5 L946.3,117.9 L946.8,116.3 L947.3,114.7 L947.8,113.1 L948.3,111.5 L948.8,109.9 L949.3,108.2 L949.8,106.6 L950.3,105.0 L950.8,103.4 L951.3,101.7 L951.8,100.1 L952.3,98.5 L952.8,96.8 L953.3,95.2 L953.8,93.5 L954.3,91.9 L954.8,90.3 L955.3,88.6 L955.8,87.0 L956.3,85.3 L956.8,83.6 L957.3,82.0 L957.8,80.3 L958.3,78.6 L958.8,77.0 L959.3,75.3 L959.8,73.6 L960.3,72.0 L960.8,70.3 L961.3,68.6 L961.8,66.9 L962.3,65.2 L962.8,63.5 L963.3,61.9 L963.8,60.2 L964.3,58.5" stroke="#d86464" stroke-width="0.85" fill="none" stroke-dasharray="1.3 0.9"/>
<path d="M667.3,55.8 L667.8,57.6 L668.3,59.3 L668.8,61.0 L669.3,62.8 L669.8,64.5 L670.3,66.2 L670.8,67.9 L671.3,69.6 L671.8,71.4 L672.3,73.1 L672.8,74.8 L673.3,76.5 L673.8,78.2 L674.3,79.9 L674.8,81.6 L675.3,83.3 L675.8,85.0 L676.3,86.7 L676.8,88.4 L677.3,90.1 L677.8,91.8 L678.3,93.5 L678.8,95.2 L679.3,96.9 L679.8,98.6 L680.3,100.3 L680.8,101.9 L681.3,103.6 L681.8,105.3 L682.3,107.0 L682.8,108.7 L683.3,110.3 L683.8,112.0 L684.3,113.7 L684.8,115.3 L685.3,117.0 L685.8,118.6 L686.3,120.3 L686.8,122.0 L687.3,123.6 L687.8,125.3 L688.3,126.9 L688.8,128.6 L689.3,130.2 L689.8,131.8 L690.3,133.5 L690.8,135.1 L691.3,136.7 L691.8,138.4 L692.3,140.0 L692.8,141.6 L693.3,143.3 L693.8,144.9 L694.3,146.5 L694.8,148.1 L695.3,149.7 L695.8,151.3 L696.3,152.9 L696.8,154.5 L697.3,156.2 L697.8,157.8 L698.3,159.3 L698.8,160.9 L699.3,162.5 L699.8,164.1 L700.3,165.7 L700.8,167.3 L701.3,168.9 L701.8,170.5 L702.3,172.0 L702.8,173.6 L703.3,175.2 L703.8,176.7 L704.3,178.3 L704.8,179.9 L705.3,181.4 L705.8,183.0 L706.3,184.5 L706.8,186.1 L707.3,187.6 L707.8,189.2 L708.3,190.7 L708.8,192.2 L709.3,193.8 L709.8,195.3 L710.3,196.8 L710.8,198.4 L711.3,199.9 L711.8,201.4 L712.3,202.9 L712.8,204.4 L713.3,205.9 L713.8,207.4 L714.3,208.9 L714.8,210.4 L715.3,211.9 L715.8,213.4 L716.3,214.9 L716.8,216.4 L717.3,217.9 L717.8,219.4 L718.3,220.8 L718.8,222.3 L719.3,223.8 L719.8,225.2 L720.3,226.7 L720.8,228.1 L721.3,229.6 L721.8,231.0 L722.3,232.5 L722.8,233.9 L723.3,235.4 L723.8,236.8 L724.3,238.2 L724.8,239.7 L725.3,241.1 L725.8,242.5 L726.3,243.9 L726.8,245.3 L727.3,246.7 L727.8,248.1 L728.3,249.5 L728.8,250.9 L729.3,252.3 L729.8,253.7 L730.3,255.1 L730.8,256.5 L731.3,257.8 L731.8,259.2 L732.3,260.6 L732.8,261.9 L733.3,263.3 L733.8,264.6 L734.3,266.0 L734.8,267.3 L735.3,268.7 L735.8,270.0 L736.3,271.3 L736.8,272.6 L737.3,274.0 L737.8,275.3 L738.3,276.6 L738.8,277.9 L739.3,279.2 L739.8,280.5 L740.3,281.8 L740.8,283.1 L741.3,284.4 L741.8,285.6 L742.3,286.9 L742.8,288.2 L743.3,289.4 L743.8,290.7 L744.3,292.0 L744.8,293.2 L745.3,294.4 L745.8,295.7 L746.3,296.9 L746.8,298.1 L747.3,299.4 L747.8,300.6" stroke="#6464d0" stroke-width="0.85" fill="none" stroke-dasharray="1.3 0.9"/>
<path d="M747.8,300.6 L748.3,301.8 L748.8,303.0 L749.3,304.2 L749.8,305.4 L750.3,306.6 L750.8,307.8 L751.3,308.9 L751.8,310.1 L752.3,311.3 L752.8,312.4 L753.3,313.6 L753.8,314.8 L754.3,315.9 L754.8,317.0 L755.3,318.2 L755.8,319.3 L756.3,320.4 L756.8,321.5 L757.3,322.6 L757.8,323.7 L758.3,324.8 L758.8,325.9 L759.3,327.0 L759.8,328.1 L760.3,329.2 L760.8,330.2 L761.3,331.3 L761.8,332.4 L762.3,333.4 L762.8,334.4 L763.3,335.5 L763.8,336.5 L764.3,337.5 L764.8,338.6 L765.3,339.6 L765.8,340.6 L766.3,341.6 L766.8,342.6 L767.3,343.5 L767.8,344.5 L768.3,345.5 L768.8,346.4 L769.3,347.4 L769.8,348.3 L770.3,349.3 L770.8,350.2 L771.3,351.2 L771.8,352.1 L772.3,353.0 L772.8,353.9 L773.3,354.8 L773.8,355.7 L774.3,356.6 L774.8,357.5 L775.3,358.3 L775.8,359.2 L776.3,360.0 L776.8,360.9 L777.3,361.7 L777.8,362.6 L778.3,363.4 L778.8,364.2 L779.3,365.0 L779.8,365.8 L780.3,366.6 L780.8,367.4 L781.3,368.2 L781.8,369.0 L782.3,369.7 L782.8,370.5 L783.3,371.2 L783.8,372.0 L784.3,372.7 L784.8,373.4 L785.3,374.1 L785.8,374.9 L786.3,375.6 L786.8,376.2 L787.3,376.9 L787.8,377.6 L788.3,378.3 L788.8,378.9 L789.3,379.6 L789.8,380.2 L790.3,380.9 L790.8,381.5 L791.3,382.1 L791.8,382.7 L792.3,383.3 L792.8,383.9 L793.3,384.5 L793.8,385.1 L794.3,385.6 L794.8,386.2 L795.3,386.7 L795.8,387.3 L796.3,387.8 L796.8,388.3 L797.3,388.8 L797.8,389.3 L798.3,389.8 L798.8,390.3 L799.3,390.8 L799.8,391.3 L800.3,391.7 L800.8,392.2 L801.3,392.6 L801.8,393.1 L802.3,393.5 L802.8,393.9 L803.3,394.3 L803.8,394.7 L804.3,395.1 L804.8,395.5 L805.3,395.8 L805.8,396.2 L806.3,396.5 L806.8,396.9 L807.3,397.2 L807.8,397.5 L808.3,397.9 L808.8,398.2 L809.3,398.4 L809.8,398.7 L810.3,399.0 L810.8,399.3 L811.3,399.5 L811.8,399.8 L812.3,400.0 L812.8,400.2 L813.3,400.5 L813.8,400.7 L814.3,400.9 L814.8,401.1 L815.3,401.2 L815.8,401.4 L816.3,401.6 L816.8,401.7 L817.3,401.9 L817.8,402.0 L818.3,402.1 L818.8,402.2 L819.3,402.3 L819.8,402.4 L820.3,402.5 L820.8,402.6 L821.3,402.6 L821.8,402.7 L822.3,402.7 L822.8,402.8 L823.3,402.8 L823.8,402.8 L824.3,402.8 L824.8,402.8 L825.3,402.8 L825.8,402.8 L826.3,402.7 L826.8,402.7 L827.3,402.6 L827.8,402.6 L828.3,402.5 L828.8,402.4 L829.3,402.3 L829.8,402.2 L830.3,402.1 L830.8,402.0 L831.3,401.9 L831.8,401.7 L832.3,401.6 L832.8,401.4 L833.3,401.3 L833.8,401.1 L834.3,400.9 L834.8,400.7 L835.3,400.5 L835.8,400.3 L836.3,400.0 L836.8,399.8 L837.3,399.6 L837.8,399.3 L838.3,399.0 L838.8,398.8 L839.3,398.5 L839.8,398.2 L840.3,397.9 L840.8,397.6 L841.3,397.3 L841.8,396.9 L842.3,396.6 L842.8,396.2 L843.3,395.9 L843.8,395.5 L844.3,395.1 L844.8,394.7 L845.3,394.4 L845.8,394.0 L846.3,393.5 L846.8,393.1 L847.3,392.7 L847.8,392.2 L848.3,391.8 L848.8,391.3 L849.3,390.9 L849.8,390.4 L850.3,389.9 L850.8,389.4 L851.3,388.9 L851.8,388.4 L852.3,387.9 L852.8,387.3 L853.3,386.8 L853.8,386.3 L854.3,385.7 L854.8,385.1 L855.3,384.6 L855.8,384.0 L856.3,383.4 L856.8,382.8 L857.3,382.2 L857.8,381.6 L858.3,380.9 L858.8,380.3 L859.3,379.7 L859.8,379.0 L860.3,378.4 L860.8,377.7 L861.3,377.0 L861.8,376.3 L862.3,375.6 L862.8,374.9 L863.3,374.2 L863.8,373.5 L864.3,372.8 L864.8,372.1 L865.3,371.3 L865.8,370.6 L866.3,369.8 L866.8,369.1 L867.3,368.3 L867.8,367.5 L868.3,366.7 L868.8,365.9 L869.3,365.1 L869.8,364.3 L870.3,363.5 L870.8,362.7 L871.3,361.8 L871.8,361.0 L872.3,360.1 L872.8,359.3 L873.3,358.4 L873.8,357.6 L874.3,356.7 L874.8,355.8 L875.3,354.9 L875.8,354.0 L876.3,353.1 L876.8,352.2 L877.3,351.3 L877.8,350.3 L878.3,349.4 L878.8,348.5 L879.3,347.5 L879.8,346.6 L880.3,345.6 L880.8,344.6 L881.3,343.7 L881.8,342.7 L882.3,341.7 L882.8,340.7 L883.3,339.7 L883.8,338.7 L884.3,337.7 L884.8,336.6 L885.3,335.6 L885.8,334.6 L886.3,333.5 L886.8,332.5 L887.3,331.4 L887.8,330.4 L888.3,329.3 L888.8,328.2 L889.3,327.2 L889.8,326.1 L890.3,325.0 L890.8,323.9 L891.3,322.8 L891.8,321.7 L892.3,320.6 L892.8,319.4 L893.3,318.3 L893.8,317.2 L894.3,316.0 L894.8,314.9 L895.3,313.7 L895.8,312.6 L896.3,311.4 L896.8,310.3 L897.3,309.1 L897.8,307.9 L898.3,306.7 L898.8,305.5 L899.3,304.3 L899.8,303.1 L900.3,301.9 L900.8,300.7 L901.3,299.5" stroke="#4848b8" stroke-width="1.05" fill="none"/>
<path d="M901.3,299.5 L901.8,298.3 L902.3,297.1 L902.8,295.8 L903.3,294.6 L903.8,293.3 L904.3,292.1 L904.8,290.8 L905.3,289.6 L905.8,288.3 L906.3,287.1 L906.8,285.8 L907.3,284.5 L907.8,283.2 L908.3,281.9 L908.8,280.7 L909.3,279.4 L909.8,278.1 L910.3,276.8 L910.8,275.4 L911.3,274.1 L911.8,272.8 L912.3,271.5 L912.8,270.2 L913.3,268.8 L913.8,267.5 L914.3,266.1 L914.8,264.8 L915.3,263.4 L915.8,262.1 L916.3,260.7 L916.8,259.4 L917.3,258.0 L917.8,256.6 L918.3,255.2 L918.8,253.9 L919.3,252.5 L919.8,251.1 L920.3,249.7 L920.8,248.3 L921.3,246.9 L921.8,245.5 L922.3,244.1 L922.8,242.7 L923.3,241.3 L923.8,239.8 L924.3,238.4 L924.8,237.0 L925.3,235.5 L925.8,234.1 L926.3,232.7 L926.8,231.2 L927.3,229.8 L927.8,228.3 L928.3,226.9 L928.8,225.4 L929.3,223.9 L929.8,222.5 L930.3,221.0 L930.8,219.5 L931.3,218.1 L931.8,216.6 L932.3,215.1 L932.8,213.6 L933.3,212.1 L933.8,210.6 L934.3,209.1 L934.8,207.6 L935.3,206.1 L935.8,204.6 L936.3,203.1 L936.8,201.6 L937.3,200.1 L937.8,198.5 L938.3,197.0 L938.8,195.5 L939.3,194.0 L939.8,192.4 L940.3,190.9 L940.8,189.4 L941.3,187.8 L941.8,186.3 L942.3,184.7 L942.8,183.2 L943.3,181.6 L943.8,180.1 L944.3,178.5 L944.8,176.9 L945.3,175.4 L945.8,173.8 L946.3,172.2 L946.8,170.6 L947.3,169.1 L947.8,167.5 L948.3,165.9 L948.8,164.3 L949.3,162.7 L949.8,161.1 L950.3,159.5 L950.8,157.9 L951.3,156.3 L951.8,154.7 L952.3,153.1 L952.8,151.5 L953.3,149.9 L953.8,148.3 L954.3,146.7 L954.8,145.1 L955.3,143.4 L955.8,141.8 L956.3,140.2 L956.8,138.6 L957.3,136.9 L957.8,135.3 L958.3,133.7 L958.8,132.0 L959.3,130.4 L959.8,128.7 L960.3,127.1 L960.8,125.5 L961.3,123.8 L961.8,122.2 L962.3,120.5 L962.8,118.8 L963.3,117.2" stroke="#6464d0" stroke-width="0.85" fill="none" stroke-dasharray="1.3 0.9"/>
<path d="M665.4,96.6 L670.2,101.4 M670.2,96.6 L665.4,101.4" stroke="#e00010" stroke-width="1.7" fill="none"/>
<path d="M680.2,170.3 L685.0,175.1 M685.0,170.3 L680.2,175.1" stroke="#e00010" stroke-width="1.7" fill="none"/>
<path d="M696.0,212.9 L700.8,217.7 M700.8,212.9 L696.0,217.7" stroke="#e00010" stroke-width="1.7" fill="none"/>
<path d="M710.7,252.0 L715.5,256.8 M715.5,252.0 L710.7,256.8" stroke="#e00010" stroke-width="1.7" fill="none"/>
<path d="M725.9,277.8 L730.7,282.6 M730.7,277.8 L725.9,282.6" stroke="#e00010" stroke-width="1.7" fill="none"/>
<path d="M734.0,296.1 L738.8,300.9 M738.8,296.1 L734.0,300.9" stroke="#e00010" stroke-width="1.7" fill="none"/>
<path d="M741.5,306.2 L746.3,311.0 M746.3,306.2 L741.5,311.0" stroke="#e00010" stroke-width="1.7" fill="none"/>
<path d="M748.9,321.9 L753.7,326.7 M753.7,321.9 L748.9,326.7" stroke="#e00010" stroke-width="1.7" fill="none"/>
<path d="M756.9,336.4 L761.7,341.2 M761.7,336.4 L756.9,341.2" stroke="#e00010" stroke-width="1.7" fill="none"/>
<path d="M764.4,347.2 L769.2,352.0 M769.2,347.2 L764.4,352.0" stroke="#e00010" stroke-width="1.7" fill="none"/>
<path d="M772.0,354.7 L776.8,359.5 M776.8,354.7 L772.0,359.5" stroke="#e00010" stroke-width="1.7" fill="none"/>
<path d="M779.7,357.8 L784.5,362.6 M784.5,357.8 L779.7,362.6" stroke="#e00010" stroke-width="1.7" fill="none"/>
<path d="M787.0,361.0 L791.8,365.8 M791.8,361.0 L787.0,365.8" stroke="#e00010" stroke-width="1.7" fill="none"/>
<path d="M794.8,359.0 L799.6,363.8 M799.6,359.0 L794.8,363.8" stroke="#e00010" stroke-width="1.7" fill="none"/>
<path d="M802.3,373.5 L807.1,378.3 M807.1,373.5 L802.3,378.3" stroke="#e00010" stroke-width="1.7" fill="none"/>
<path d="M809.8,372.3 L814.6,377.1 M814.6,372.3 L809.8,377.1" stroke="#e00010" stroke-width="1.7" fill="none"/>
<path d="M817.8,379.2 L822.6,384.0 M822.6,379.2 L817.8,384.0" stroke="#e00010" stroke-width="1.7" fill="none"/>
<path d="M825.2,374.5 L830.0,379.3 M830.0,374.5 L825.2,379.3" stroke="#e00010" stroke-width="1.7" fill="none"/>
<path d="M832.8,369.0 L837.6,373.8 M837.6,369.0 L832.8,373.8" stroke="#e00010" stroke-width="1.7" fill="none"/>
<path d="M839.2,361.9 L844.0,366.7 M844.0,361.9 L839.2,366.7" stroke="#e00010" stroke-width="1.7" fill="none"/>
<path d="M840.3,374.2 L845.1,379.0 M845.1,374.2 L840.3,379.0" stroke="#e00010" stroke-width="1.7" fill="none"/>
<path d="M847.8,357.4 L852.6,362.2 M852.6,357.4 L847.8,362.2" stroke="#e00010" stroke-width="1.7" fill="none"/>
<path d="M855.7,335.2 L860.5,340.0 M860.5,335.2 L855.7,340.0" stroke="#e00010" stroke-width="1.7" fill="none"/>
<path d="M862.7,311.4 L867.5,316.2 M867.5,311.4 L862.7,316.2" stroke="#e00010" stroke-width="1.7" fill="none"/>
<path d="M870.2,305.1 L875.0,309.9 M875.0,305.1 L870.2,309.9" stroke="#e00010" stroke-width="1.7" fill="none"/>
<path d="M878.2,286.6 L883.0,291.4 M883.0,286.6 L878.2,291.4" stroke="#e00010" stroke-width="1.7" fill="none"/>
<path d="M885.7,278.3 L890.5,283.1 M890.5,278.3 L885.7,283.1" stroke="#e00010" stroke-width="1.7" fill="none"/>
<path d="M894.0,249.6 L898.8,254.4 M898.8,249.6 L894.0,254.4" stroke="#e00010" stroke-width="1.7" fill="none"/>
<path d="M900.7,231.5 L905.5,236.3 M905.5,231.5 L900.7,236.3" stroke="#e00010" stroke-width="1.7" fill="none"/>
<path d="M908.5,215.7 L913.3,220.5 M913.3,215.7 L908.5,220.5" stroke="#e00010" stroke-width="1.7" fill="none"/>
<path d="M916.0,202.6 L920.8,207.4 M920.8,202.6 L916.0,207.4" stroke="#e00010" stroke-width="1.7" fill="none"/>
<path d="M923.6,181.7 L928.4,186.5 M928.4,181.7 L923.6,186.5" stroke="#e00010" stroke-width="1.7" fill="none"/>
<path d="M931.0,150.7 L935.8,155.5 M935.8,150.7 L931.0,155.5" stroke="#e00010" stroke-width="1.7" fill="none"/>
<path d="M938.7,138.7 L943.5,143.5 M943.5,138.7 L938.7,143.5" stroke="#e00010" stroke-width="1.7" fill="none"/>
<path d="M946.4,105.0 L951.2,109.8 M951.2,105.0 L946.4,109.8" stroke="#e00010" stroke-width="1.7" fill="none"/>
<path d="M954.2,77.2 L959.0,82.0 M959.0,77.2 L954.2,82.0" stroke="#e00010" stroke-width="1.7" fill="none"/>
<path d="M665.5,25.7 L667.9,28.3 L670.3,25.7 M667.9,28.3 V31.1" stroke="#0000c8" stroke-width="1.7" fill="none"/>
<path d="M680.9,110.8 L683.3,113.4 L685.7,110.8 M683.3,113.4 V116.2" stroke="#0000c8" stroke-width="1.7" fill="none"/>
<path d="M696.0,164.5 L698.4,167.1 L700.8,164.5 M698.4,167.1 V169.9" stroke="#0000c8" stroke-width="1.7" fill="none"/>
<path d="M711.0,207.7 L713.4,210.3 L715.8,207.7 M713.4,210.3 V213.1" stroke="#0000c8" stroke-width="1.7" fill="none"/>
<path d="M725.9,255.0 L728.3,257.6 L730.7,255.0 M728.3,257.6 V260.4" stroke="#0000c8" stroke-width="1.7" fill="none"/>
<path d="M734.0,281.3 L736.4,283.9 L738.8,281.3 M736.4,283.9 V286.7" stroke="#0000c8" stroke-width="1.7" fill="none"/>
<path d="M741.5,292.6 L743.9,295.2 L746.3,292.6 M743.9,295.2 V298.0" stroke="#0000c8" stroke-width="1.7" fill="none"/>
<path d="M749.0,315.2 L751.4,317.8 L753.8,315.2 M751.4,317.8 V320.6" stroke="#0000c8" stroke-width="1.7" fill="none"/>
<path d="M756.9,323.0 L759.3,325.6 L761.7,323.0 M759.3,325.6 V328.4" stroke="#0000c8" stroke-width="1.7" fill="none"/>
<path d="M764.4,338.8 L766.8,341.4 L769.2,338.8 M766.8,341.4 V344.2" stroke="#0000c8" stroke-width="1.7" fill="none"/>
<path d="M779.7,365.6 L782.1,368.2 L784.5,365.6 M782.1,368.2 V371.0" stroke="#0000c8" stroke-width="1.7" fill="none"/>
<path d="M787.0,373.8 L789.4,376.4 L791.8,373.8 M789.4,376.4 V379.2" stroke="#0000c8" stroke-width="1.7" fill="none"/>
<path d="M794.8,384.6 L797.2,387.2 L799.6,384.6 M797.2,387.2 V390.0" stroke="#0000c8" stroke-width="1.7" fill="none"/>
<path d="M802.3,378.4 L804.7,381.0 L807.1,378.4 M804.7,381.0 V383.8" stroke="#0000c8" stroke-width="1.7" fill="none"/>
<path d="M809.8,385.6 L812.2,388.2 L814.6,385.6 M812.2,388.2 V391.0" stroke="#0000c8" stroke-width="1.7" fill="none"/>
<path d="M817.8,403.6 L820.2,406.2 L822.6,403.6 M820.2,406.2 V409.0" stroke="#0000c8" stroke-width="1.7" fill="none"/>
<path d="M825.2,407.7 L827.6,410.3 L830.0,407.7 M827.6,410.3 V413.1" stroke="#0000c8" stroke-width="1.7" fill="none"/>
<path d="M832.8,391.3 L835.2,393.9 L837.6,391.3 M835.2,393.9 V396.7" stroke="#0000c8" stroke-width="1.7" fill="none"/>
<path d="M839.2,390.4 L841.6,393.0 L844.0,390.4 M841.6,393.0 V395.8" stroke="#0000c8" stroke-width="1.7" fill="none"/>
<path d="M840.3,398.6 L842.7,401.2 L845.1,398.6 M842.7,401.2 V404.0" stroke="#0000c8" stroke-width="1.7" fill="none"/>
<path d="M847.8,393.4 L850.2,396.0 L852.6,393.4 M850.2,396.0 V398.8" stroke="#0000c8" stroke-width="1.7" fill="none"/>
<path d="M855.6,377.0 L858.0,379.6 L860.4,377.0 M858.0,379.6 V382.4" stroke="#0000c8" stroke-width="1.7" fill="none"/>
<path d="M862.5,362.0 L864.9,364.6 L867.3,362.0 M864.9,364.6 V367.4" stroke="#0000c8" stroke-width="1.7" fill="none"/>
<path d="M870.2,353.8 L872.6,356.4 L875.0,353.8 M872.6,356.4 V359.2" stroke="#0000c8" stroke-width="1.7" fill="none"/>
<path d="M878.3,335.0 L880.7,337.6 L883.1,335.0 M880.7,337.6 V340.4" stroke="#0000c8" stroke-width="1.7" fill="none"/>
<path d="M885.8,319.5 L888.2,322.1 L890.6,319.5 M888.2,322.1 V324.9" stroke="#0000c8" stroke-width="1.7" fill="none"/>
<path d="M894.0,302.9 L896.4,305.5 L898.8,302.9 M896.4,305.5 V308.3" stroke="#0000c8" stroke-width="1.7" fill="none"/>
<path d="M901.0,284.6 L903.4,287.2 L905.8,284.6 M903.4,287.2 V290.0" stroke="#0000c8" stroke-width="1.7" fill="none"/>
<path d="M908.5,268.1 L910.9,270.7 L913.3,268.1 M910.9,270.7 V273.5" stroke="#0000c8" stroke-width="1.7" fill="none"/>
<path d="M916.3,252.1 L918.7,254.7 L921.1,252.1 M918.7,254.7 V257.5" stroke="#0000c8" stroke-width="1.7" fill="none"/>
<path d="M924.0,223.7 L926.4,226.3 L928.8,223.7 M926.4,226.3 V229.1" stroke="#0000c8" stroke-width="1.7" fill="none"/>
<path d="M931.5,201.2 L933.9,203.8 L936.3,201.2 M933.9,203.8 V206.6" stroke="#0000c8" stroke-width="1.7" fill="none"/>
<path d="M938.7,183.0 L941.1,185.6 L943.5,183.0 M941.1,185.6 V188.4" stroke="#0000c8" stroke-width="1.7" fill="none"/>
<path d="M946.4,159.0 L948.8,161.6 L951.2,159.0 M948.8,161.6 V164.4" stroke="#0000c8" stroke-width="1.7" fill="none"/>
<path d="M954.2,133.1 L956.6,135.7 L959.0,133.1 M956.6,135.7 V138.5" stroke="#0000c8" stroke-width="1.7" fill="none"/>
<rect x="960.8" y="39.8" width="7.1" height="8" rx="0.8" fill="#e01020"/>
<path d="M962.3,41.6 L966.4,46 M966.4,41.6 L962.3,46" stroke="#fff" stroke-width="1.3"/>
<rect x="960.8" y="106.9" width="7.1" height="7.1" rx="0.6" fill="#0a0ac8"/>
<path d="M962.3,108.3 L964.35,110.6 L966.4,108.3 M964.35,110.6 V112.9" stroke="#fff" stroke-width="1.2" fill="none"/>
<path d="M692.8,140.9 H720" stroke="#0000ff" stroke-width="2.8"/>
<path d="M719,134.5 L732.3,141 L719,147.6 Z" fill="#0000ff"/>
<path d="M924,95.9 H951.8" stroke="#ff0000" stroke-width="2.8"/>
<path d="M925.6,89.2 L912,95.8 L925.6,102.3 Z" fill="#ff0000"/>
<text font-family="Liberation Serif" font-size="20" fill="#000" stroke="#000" stroke-width="0.12"><tspan x="825.0" y="104.0" font-style="italic">M</tspan><tspan x="844.0" y="94.8" font-size="12.2">2</tspan><tspan x="843.6" y="108.8" font-size="12" font-style="italic">x</tspan><tspan x="855.3" y="106.3" font-size="21">=</tspan><tspan x="869.5" y="104.0">1.20</tspan></text>
<text font-family="Liberation Serif" font-size="20" fill="#000" stroke="#000" stroke-width="0.12"><tspan x="736.2" y="146.9" font-style="italic">M</tspan><tspan x="755.2" y="137.70000000000002" font-size="12.2">2</tspan><tspan x="754.8000000000001" y="151.70000000000002" font-size="12" font-style="italic">y</tspan><tspan x="766.5" y="149.20000000000002" font-size="21">=</tspan><tspan x="780.70 789.85 795.35 803.65" y="146.9">1.19</tspan></text>
<text x="635.1" y="48.3" font-family="Liberation Serif" font-weight="bold" font-size="36.5" fill="#000" stroke="#000" stroke-width="0.3" textLength="44" lengthAdjust="spacingAndGlyphs">(b)</text>
</svg>
</body></html>
